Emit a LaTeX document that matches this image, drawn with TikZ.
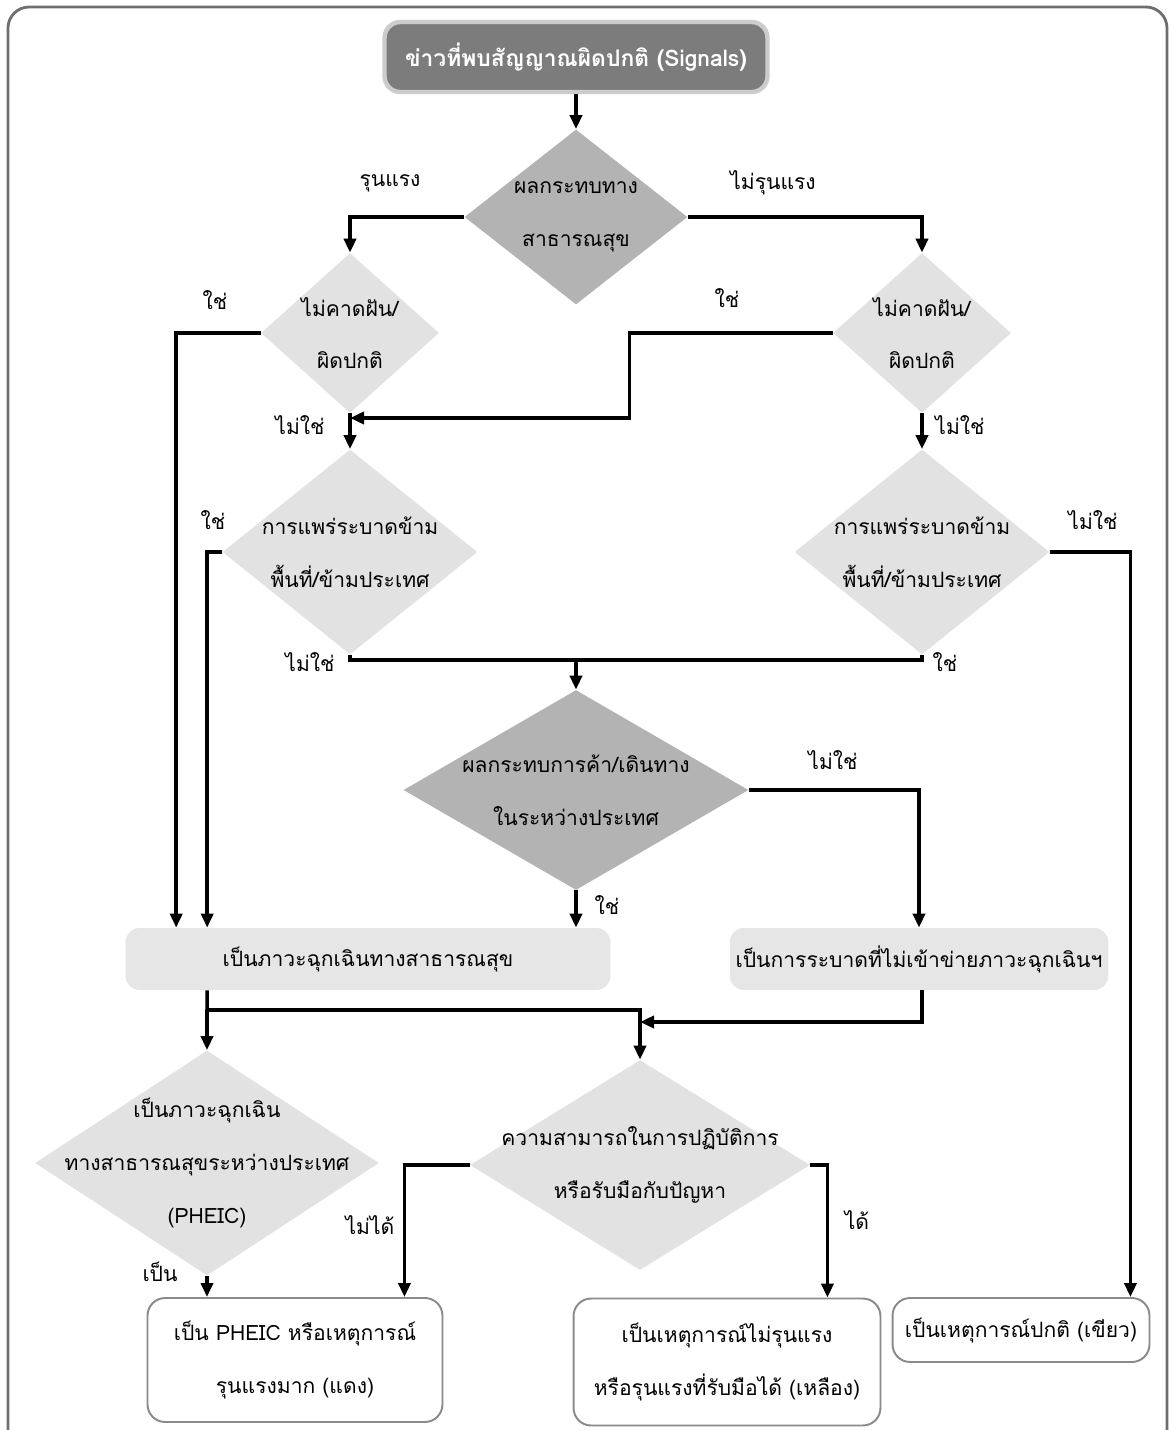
\documentclass[tikz,border=0pt]{standalone}
\usepackage{fontspec}
\newfontfamily\thaifont[Script=Thai]{Loma}
\usepackage{xcolor}
\usetikzlibrary{arrows.meta, positioning, shapes.geometric}

\definecolor{framegray}{HTML}{6E6E6E}
\definecolor{topfill}{HTML}{7C7C7C}
\definecolor{topline}{HTML}{CCCCCC}
\definecolor{decdark}{HTML}{B3B3B3}
\definecolor{declight}{HTML}{E2E2E2}
\definecolor{boxfill}{HTML}{E6E6E6}
\definecolor{endline}{HTML}{8A8A8A}

\begin{document}
\begin{tikzpicture}[
x=0.02cm, y=-0.02cm,
font=\thaifont\fontsize{12}{30}\selectfont,
dec/.style={diamond, fill=declight, inner sep=0pt},
decd/.style={dec, fill=decdark},
dtxt/.style={align=center},
lbl/.style={inner sep=1pt},
topbox/.style={draw=topline, line width=2.5pt, fill=topfill, rounded corners=9pt, text=white, font=\thaifont\bfseries\fontsize{13}{16}\selectfont, minimum width=7.66cm, minimum height=1.4cm},
evbox/.style={fill=boxfill, rounded corners=8pt, minimum height=1.24cm},
endbox/.style={draw=endline, line width=1.1pt, fill=white, rounded corners=10pt, align=center},
arr/.style={-{Triangle[length=2.8mm, width=2.4mm]}, line width=2pt},
ln/.style={line width=2pt}
]
\useasboundingbox (0,0) rectangle (1172,1430);
\draw[framegray, line width=1.6pt, rounded corners=12pt] (8,1440) -- (8,7) -- (1167,7) -- (1167,1440);

% start
\node[topbox] (sig) at (576,57) {ข่าวที่พบสัญญาณผิดปกติ (Signals)};

% decisions
\node[decd, minimum width=4.46cm, minimum height=3.5cm] (d1) at (576,217) {};
\node[dtxt] (d1t) at (d1) {ผลกระทบทาง\\สาธารณสุข};
\node[dec, minimum width=3.56cm, minimum height=3.2cm] (l1) at (350,333) {};
\node[dtxt] (l1t) at (l1) {ไม่คาดฝัน/\\ผิดปกติ};
\node[dec, minimum width=3.56cm, minimum height=3.2cm] (r1) at (922,333) {};
\node[dtxt] (r1t) at (r1) {ไม่คาดฝัน/\\ผิดปกติ};
\node[dec, minimum width=5.1cm, minimum height=4.1cm] (l2) at (350,552) {};
\node[dtxt] (l2t) at (l2) {การแพร่ระบาดข้าม\\พื้นที่/ข้ามประเทศ};
\node[dec, minimum width=5.1cm, minimum height=4.1cm] (r2) at (922,552) {};
\node[dtxt] (r2t) at (r2) {การแพร่ระบาดข้าม\\พื้นที่/ข้ามประเทศ};
\node[decd, minimum width=6.9cm, minimum height=4cm] (m) at (576,790) {};
\node[dtxt] (mt) at (m) {ผลกระทบการค้า/เดินทาง\\ในระหว่างประเทศ};

% events
\node[evbox, minimum width=9.7cm] (b1) at (368,959) {เป็นภาวะฉุกเฉินทางสาธารณสุข};
\node[evbox, minimum width=7.36cm] (b2) at (919,959) {เป็นการระบาดที่ไม่เข้าข่ายภาวะฉุกเฉินฯ};

\node[dec, minimum width=6.88cm, minimum height=4.5cm] (p) at (207,1163) {};
\node[dtxt] (pt) at (p) {เป็นภาวะฉุกเฉิน\\ทางสาธารณสุขระหว่างประเทศ\\(PHEIC)};
\node[dec, minimum width=6.8cm, minimum height=4.2cm] (c) at (640,1165) {};
\node[dtxt] (ct) at (c) {ความสามารถในการปฏิบัติการ\\หรือรับมือกับปัญหา};

% outcomes
\node[endbox, minimum width=5.9cm, minimum height=2.48cm] (red) at (295,1360) {เป็น PHEIC หรือเหตุการณ์\\รุนแรงมาก (แดง)};
\node[endbox, minimum width=6.14cm, minimum height=2.54cm] (yel) at (727,1362) {เป็นเหตุการณ์ไม่รุนแรง\\หรือรุนแรงที่รับมือได้ (เหลือง)};
\node[endbox, minimum width=5.14cm, minimum height=1.28cm] (grn) at (1021,1330) {เป็นเหตุการณ์ปกติ (เขียว)};

% labels
\node[lbl] (ya) at (390,183) {รุนแรง};
\node[lbl] (na) at (773,183) {ไม่รุนแรง};
\node[lbl] (yb) at (215,300) {ใช่};
\node[lbl] (nb) at (300,425) {ไม่ใช่};
\node[lbl] (yc) at (727,298) {ใช่};
\node[lbl] (nc) at (960,425) {ไม่ใช่};
\node[lbl] (yd) at (213,520) {ใช่};
\node[lbl] (nd) at (310,662) {ไม่ใช่};
\node[lbl] (ne) at (1093,520) {ไม่ใช่};
\node[lbl] (ye) at (945,662) {ใช่};
\node[lbl] (nf) at (833,760) {ไม่ใช่};
\node[lbl] (yf) at (607,905) {ใช่};
\node[lbl] (yg) at (160,1272) {เป็น};
\node[lbl] (nh) at (370,1225) {ไม่ได้};
\node[lbl] (yh) at (857,1220) {ได้};

% junctions
\coordinate (j1) at (350,418);
\coordinate (j2) at (576,660);
\coordinate (j3) at (207,1010);
\coordinate (j4) at (640,1022);

% connectors
\draw[arr] (sig) -- (d1);
\draw[arr] (d1.west) -| (l1.north);
\draw[arr] (d1.east) -| (r1.north);
\draw[arr] (l1.south) -- (l2.north);
\draw[arr] (r1.south) -- (r2.north);
\draw[arr] (l1.west) -| ([xshift=1.02cm]b1.north west);
\draw[arr] (l2.west) -| ([xshift=1.64cm]b1.north west);
\draw[arr] (r1.west) -- ++(-4.06cm,0) |- (j1);
\draw[ln] (l2.south) |- (j2) -| (r2.south);
\draw[arr] (j2) -- (m.north);
\draw[arr] (m.east) -| (b2.north);
\draw[arr] (m.south) -- (m.south |- b1.north);
\draw[arr] (r2.east) -| ([xshift=-0.4cm]grn.north east);
\draw[ln] ([xshift=1.64cm]b1.south west) -- (j3);
\draw[arr] (j3) -- (p.north);
\draw[arr] (j3) -| (c.north);
\draw[arr] (b2.south -| r1) |- (j4);
\draw[arr] (p.south) -- (p.south |- red.north);
\draw[arr] (c.west) -| ([xshift=-0.78cm]red.north east);
\draw[arr] (c.east) -| ([xshift=-1.08cm]yel.north east);
\end{tikzpicture}
\end{document}
